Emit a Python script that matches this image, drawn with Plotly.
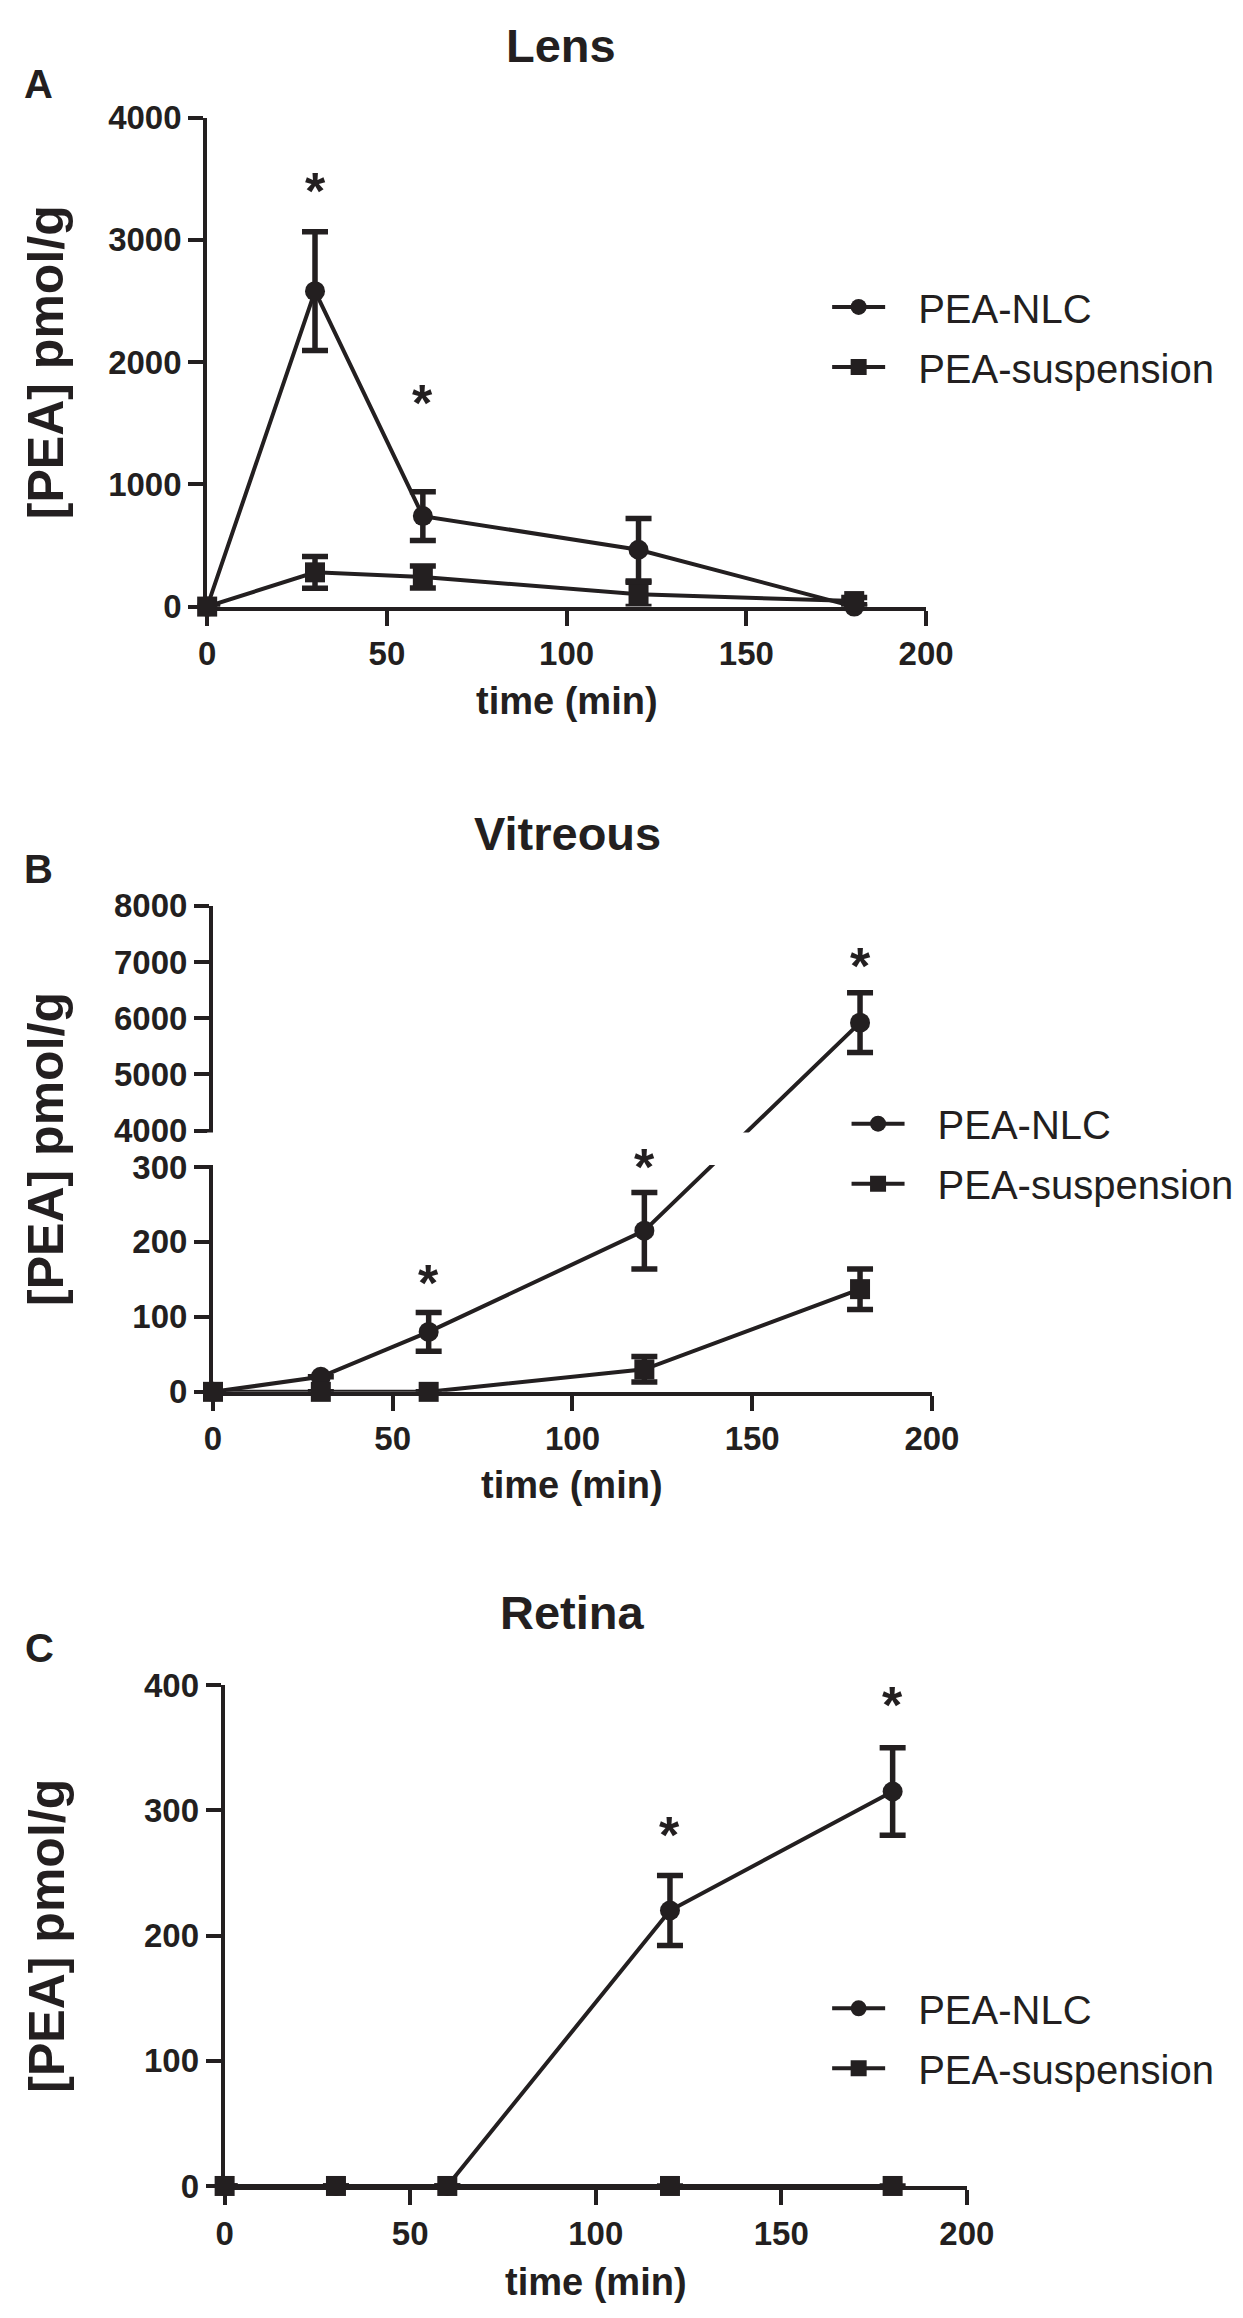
import plotly.graph_objects as go

W, H = 1243, 2318
INK = '#231f20'
FONT = 'Liberation Sans, Arial, Helvetica, sans-serif'

# ---------------- data ----------------
time_min = [0, 30, 60, 120, 180]
x_ticks = [0, 50, 100, 150, 200]
series_names = ['PEA-NLC', 'PEA-suspension']
panel_titles = ['Lens', 'Vitreous', 'Retina']
panel_letters = ['A', 'B', 'C']

lens_nlc = [0, 2580, 740, 465, 0]
lens_nlc_sd = [0, 485, 200, 255, 0]
lens_susp = [0, 280, 242, 100, 45]
lens_susp_sd = [0, 130, 90, 100, 30]
lens_y_ticks = [0, 1000, 2000, 3000, 4000]
lens_star_x = [30, 60]
lens_star_y = [3500, 1760]

vit_nlc = [0, 20, 80, 215, 5920]
vit_nlc_sd = [0, 0, 26, 51, 530]
vit_susp = [0, 0, 0, 30, 137]
vit_susp_sd = [0, 0, 0, 17, 27]
vit_y_ticks = [0, 100, 200, 300, 4000, 5000, 6000, 7000, 8000]
vit_star_x = [60, 120, 180]
vit_star_y = [161, 316, 584]          # in broken-axis plot units

ret_nlc = [0, 0, 0, 220, 315]
ret_nlc_sd = [0, 0, 0, 28, 35]
ret_susp = [0, 0, 0, 0, 0]
ret_susp_sd = [0, 0, 0, 0, 0]
ret_y_ticks = [0, 100, 200, 300, 400]
ret_star_x = [120, 180]
ret_star_y = [290, 394]

# broken axis for the vitreous panel
LOW_MAX, HIGH_MIN, HIGH_MAX = 300, 4000, 8000
GAP = 48.5
HIGH_SCALE = LOW_MAX / (HIGH_MAX - HIGH_MIN)


def brk(v):
    return v if v <= LOW_MAX else LOW_MAX + GAP + (v - HIGH_MIN) * HIGH_SCALE


VIT_TOP = brk(HIGH_MAX)


def px_x(p):
    return p / W


def px_y(p):
    return 1 - p / H


def nz(arr):
    return [e if e else None for e in arr]


fig = go.Figure()

marker_syms = ['circle', 'square']
LEGEND_PAD = '\u2002\u2009'


def add_pair(xa, ya, legend, ys, sds, transform=None):
    for i, (yv, sd) in enumerate(zip(ys, sds)):
        if transform:
            yy = [transform(v) for v in yv]
            up = [(transform(v + e) - transform(v)) if e else None for v, e in zip(yv, sd)]
            dn = [(transform(v) - transform(v - e)) if e else None for v, e in zip(yv, sd)]
            err = dict(type='data', symmetric=False, array=up, arrayminus=dn,
                       color=INK, thickness=5.5, width=13, visible=True)
        else:
            yy = yv
            err = dict(type='data', array=nz(sd), color=INK, thickness=5.5,
                       width=13, visible=True)
        fig.add_trace(go.Scatter(
            x=time_min, y=yy, xaxis=xa, yaxis=ya, name=LEGEND_PAD + series_names[i],
            mode='lines+markers', legend=legend, legendgroup=legend + str(i),
            line=dict(color=INK, width=4),
            marker=dict(symbol=marker_syms[i], size=20, color=INK),
            error_y=err, cliponaxis=False, hoverinfo='skip'))


add_pair('x', 'y', 'legend', [lens_nlc, lens_susp], [lens_nlc_sd, lens_susp_sd])
add_pair('x2', 'y2', 'legend2', [vit_nlc, vit_susp], [vit_nlc_sd, vit_susp_sd], brk)
add_pair('x3', 'y3', 'legend3', [ret_nlc, ret_susp], [ret_nlc_sd, ret_susp_sd])

tickfont = dict(family=FONT, size=33, color=INK, weight='bold')
axis_common = dict(showline=True, linewidth=4, linecolor=INK, ticks='outside',
                   ticklen=15, tickwidth=4, tickcolor=INK, showgrid=False,
                   zeroline=False, tickfont=tickfont, fixedrange=True)

# pixel frames of the three plot areas: left, right, top, bottom
frames = [(196, 937, 93, 590), (202, 943, 894, 1388), (214, 979, 1686, 2195)]
y_ranges = [[0, 4000], [0, VIT_TOP], [0, 400]]
y_tickvals = [lens_y_ticks, [brk(v) for v in vit_y_ticks], ret_y_ticks]
y_ticktext = [[str(v) for v in lens_y_ticks], [str(v) for v in vit_y_ticks],
              [str(v) for v in ret_y_ticks]]

layout = dict(width=W, height=H, margin=dict(l=0, r=0, t=0, b=0),
              paper_bgcolor='white', plot_bgcolor='white', showlegend=True)
for k, (l, r, t, b) in enumerate(frames):
    sx = '' if k == 0 else str(k + 1)
    layout['xaxis' + sx] = dict(axis_common, domain=[px_x(l), px_x(r)], range=[0, 200],
                                tickvals=x_ticks, anchor='y' + sx)
    layout['yaxis' + sx] = dict(axis_common, domain=[px_y(b), px_y(t)], range=y_ranges[k],
                                tickvals=y_tickvals[k], ticktext=y_ticktext[k],
                                anchor='x' + sx)

legend_pos = [(835, 316), (855, 1146), (835, 2045)]
for k, (lx, ly) in enumerate(legend_pos):
    name = 'legend' if k == 0 else 'legend' + str(k + 1)
    layout[name] = dict(x=px_x(lx), y=px_y(ly), xanchor='left', yanchor='middle',
                        font=dict(family=FONT, size=40, color=INK),
                        bgcolor='rgba(0,0,0,0)', itemwidth=53, tracegroupgap=5,
                        itemclick=False, itemdoubleclick=False)

fig.update_layout(**layout)

# mask over the axis break in panel B
l, r, t, b = frames[1]
span = b - t


def vit_py(tv):
    return b - tv / VIT_TOP * span


fig.add_shape(type='rect', xref='paper', yref='paper',
              x0=px_x(l - 6), x1=px_x(800),
              y0=px_y(vit_py(LOW_MAX) - 2), y1=px_y(vit_py(LOW_MAX + GAP) + 2),
              fillcolor='white', line=dict(width=0), layer='above')

ann = []
title_pos = [(561, 20), (567, 821), (573, 1612)]
letter_pos = [(22, 59), (22, 857), (23, 1648)]
xtitle_y = [686, 1483, 2293]
for k, (l, r, t, b) in enumerate(frames):
    tx, ty = title_pos[k]
    ann.append(dict(x=px_x(tx), y=px_y(ty), xref='paper', yref='paper', text=panel_titles[k],
                    showarrow=False, xanchor='center', yanchor='middle',
                    font=dict(family=FONT, size=47, color=INK, weight='bold')))
    lx, ly = letter_pos[k]
    ann.append(dict(x=px_x(lx), y=px_y(ly), xref='paper', yref='paper', text=panel_letters[k],
                    showarrow=False, xanchor='center', yanchor='middle',
                    font=dict(family=FONT, size=40, color=INK, weight='bold')))
    ann.append(dict(x=px_x((l + r) / 2), y=px_y(xtitle_y[k]), xref='paper', yref='paper',
                    text='time (min)', showarrow=False, xanchor='center', yanchor='middle',
                    font=dict(family=FONT, size=38, color=INK, weight='bold')))
    ann.append(dict(x=px_x(30), y=px_y((t + b) / 2), xref='paper', yref='paper',
                    text='[PEA] pmol/g', textangle=-90, showarrow=False,
                    xanchor='center', yanchor='middle',
                    font=dict(family=FONT, size=50, color=INK, weight='bold')))

stars = [('x', 'y', lens_star_x, lens_star_y), ('x2', 'y2', vit_star_x, vit_star_y),
         ('x3', 'y3', ret_star_x, ret_star_y)]
for xa, ya, sxs, sys in stars:
    for sx_, sy_ in zip(sxs, sys):
        ann.append(dict(x=sx_, y=sy_, xref=xa, yref=ya, text='*', showarrow=False,
                        xanchor='center', yanchor='middle', yshift=-12,
                        font=dict(family=FONT, size=52, color=INK, weight='bold')))

fig.update_layout(annotations=ann)

fig.write_html('out.html', config=dict(displayModeBar=False))
